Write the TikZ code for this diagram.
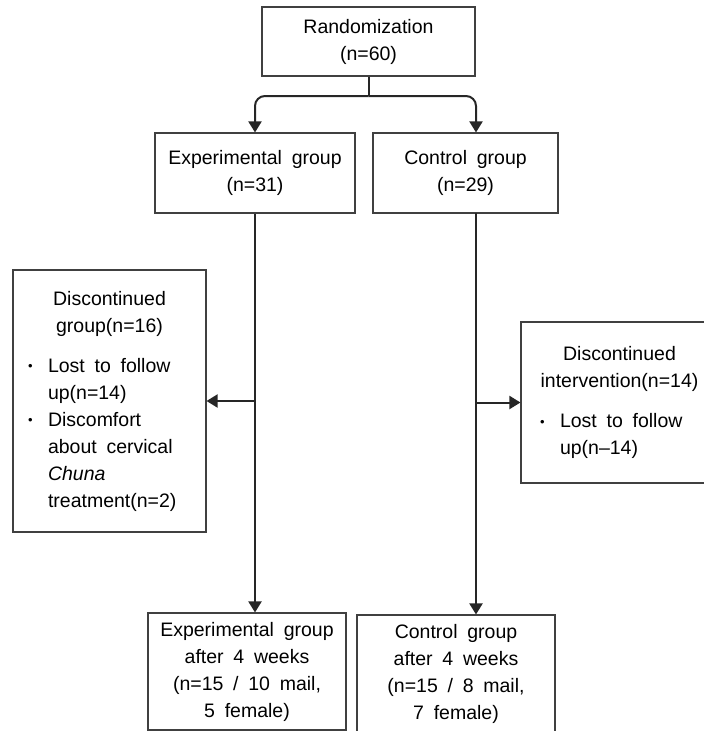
\documentclass[tikz,border=0pt]{standalone}
\usepackage{fontspec}
\setmainfont{Liberation Sans}
\usetikzlibrary{arrows.meta}
\newcommand{\chartfont}{\fontsize{19.5}{27}\selectfont\spaceskip=0.5em plus 0.2em\relax}
\newcommand{\bitem}[1]{\par\hangindent=23pt\hangafter=1\noindent\makebox[23pt][l]{\hspace{3pt}\raisebox{1.5pt}{\fontsize{13}{13}\selectfont\textbullet}}{\let\\\newline#1}\par}

\begin{document}
\begin{tikzpicture}[x=1pt,y=-1pt,font=\chartfont]
    \tikzstyle{box}=[draw=black!75, line width=1.1pt, inner sep=0pt, align=center]
    \tikzstyle{note}=[box, align=left, inner xsep=12pt, execute at begin node=\chartfont]
    \tikzstyle{link}=[draw=black!85, line width=2pt]
    \tikzstyle{arrow}=[link, -{Triangle[width=13pt,length=11pt]}]

    \useasboundingbox (0,0) rectangle (704,731);

    % Draw the top of the chart
    \node[box, minimum width=213pt, minimum height=69pt] (rand) at (368.5,41.5) {Randomization\\(n=60)};
    \node[box, minimum width=200pt, minimum height=80pt] (exp) at (255,173) {Experimental group\\(n=31)};
    \node[box, minimum width=185pt, minimum height=80pt] (ctl) at (465.5,173) {Control group\\(n=29)};

    % Draw the drop-out boxes
    \node[note, text width=169pt, minimum height=262pt] (disc) at (109.5,401) {%
        {\centering Discontinued\\group(n=16)\par}\vspace{13pt}
        \bitem{Lost to follow\\up(n=14)}
        \bitem{Discomfort\\about cervical\\\textit{Chuna}\\treatment(n=2)}};
    \node[note, text width=165pt, inner xsep=16pt, minimum height=161pt] (dint) at (619.5,402.5) {%
        {\centering Discontinued\\intervention(n=14)\par}\vspace{13pt}
        \bitem{Lost to follow\\up(n--14)}};

    % Draw the groups after 4 weeks
    \node[box, minimum width=198pt, minimum height=117pt] (exp4) at (247,671.5) {Experimental group\\after 4 weeks\\(n=15 / 10 mail,\\5 female)};
    \node[box, minimum width=198pt, minimum height=118pt] (ctl4) at (456,674) {Control group\\after 4 weeks\\(n=15 / 8 mail,\\7 female)};

    \coordinate (split) at (368.5,96);
    \coordinate (cline) at (476,213);

    % Split the sample into the two groups
    \draw[link] (rand.south) -- (split);
    \draw[arrow, rounded corners=10pt] (split) -| (exp.north);
    \draw[arrow, rounded corners=10pt] (split) -| (ctl.north -| cline);

    % Follow every group down to the end of the study
    \draw[arrow] (exp.south) -- (exp.south |- exp4.north);
    \draw[arrow] (cline) -- (cline |- ctl4.north);

    % Drop-outs
    \draw[arrow] (exp.south |- disc.east) -- (disc.east);
    \draw[arrow] (cline |- dint.west) -- (dint.west);
\end{tikzpicture}
\end{document}
